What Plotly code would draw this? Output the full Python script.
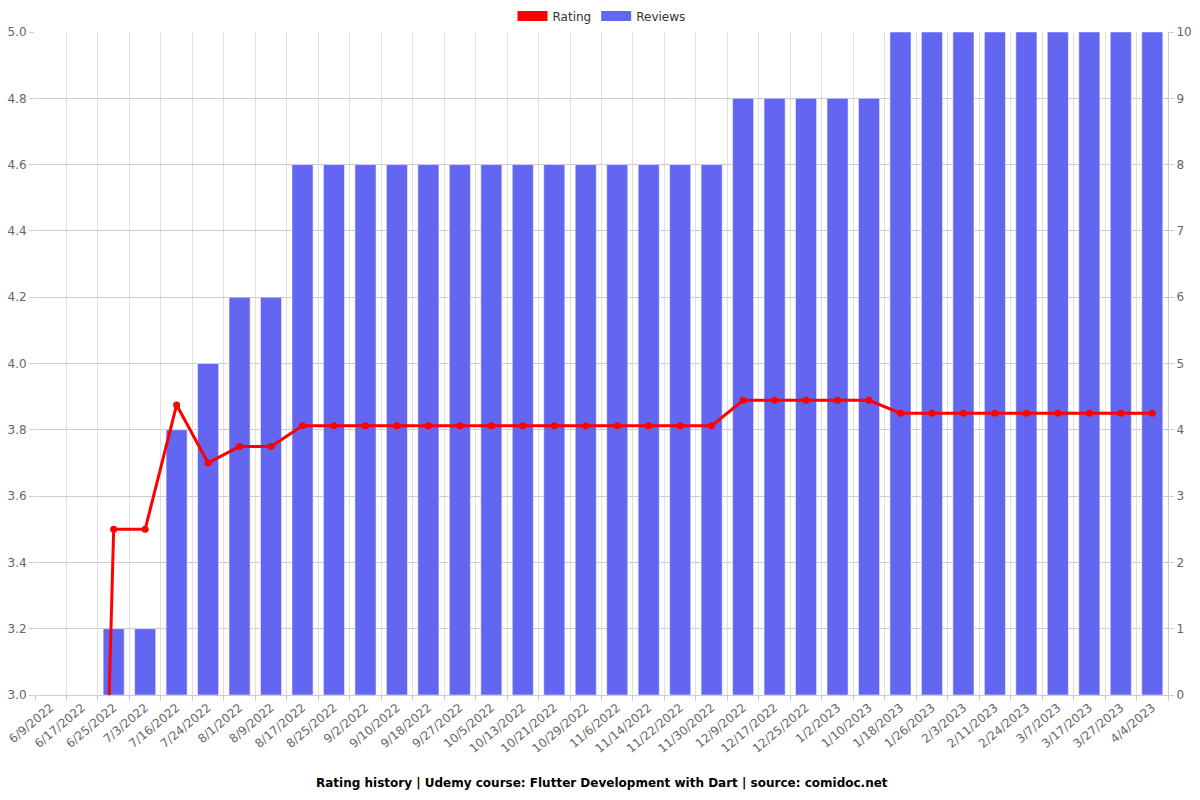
import plotly.graph_objects as go

dates = ["6/9/2022", "6/17/2022", "6/25/2022", "7/3/2022", "7/16/2022", "7/24/2022",
         "8/1/2022", "8/9/2022", "8/17/2022", "8/25/2022", "9/2/2022", "9/10/2022",
         "9/18/2022", "9/27/2022", "10/5/2022", "10/13/2022", "10/21/2022", "10/29/2022",
         "11/6/2022", "11/14/2022", "11/22/2022", "11/30/2022", "12/9/2022", "12/17/2022",
         "12/25/2022", "1/2/2023", "1/10/2023", "1/18/2023", "1/26/2023", "2/3/2023",
         "2/11/2023", "2/24/2023", "3/7/2023", "3/17/2023", "3/27/2023", "4/4/2023"]

reviews = [0, 0, 1, 1, 4, 5, 6, 6,
           8, 8, 8, 8, 8, 8, 8, 8, 8, 8, 8, 8, 8, 8,
           9, 9, 9, 9, 9,
           10, 10, 10, 10, 10, 10, 10, 10, 10]

rating = [0, 0, 3.5, 3.5, 3.875, 3.7, 3.75, 3.75,
          3.8125, 3.8125, 3.8125, 3.8125, 3.8125, 3.8125, 3.8125, 3.8125, 3.8125, 3.8125,
          3.8125, 3.8125, 3.8125, 3.8125,
          3.889, 3.889, 3.889, 3.889, 3.889,
          3.85, 3.85, 3.85, 3.85, 3.85, 3.85, 3.85, 3.85, 3.85]

title = "Rating history | Udemy course: Flutter Development with Dart | source: comidoc.net"

RED = "#ff0000"
BLUE = "#6366f1"

fig = go.Figure()

# bars on primary axis (drawn below), rating line on overlaying axis (drawn on top)
fig.add_trace(go.Bar(
    x=dates, y=reviews, name="Reviews", yaxis="y",
    marker=dict(color=BLUE, line=dict(color="rgba(255,255,255,0.5)", width=1)),
    showlegend=False,
))
fig.add_trace(go.Scatter(
    x=dates, y=rating, name="Rating", mode="lines+markers", yaxis="y2",
    line=dict(color=RED, width=3), marker=dict(color=RED, size=7),
    showlegend=False,
))
# legend-only entries (rectangular swatches)
fig.add_trace(go.Scatter(x=[None], y=[None], name="Rating", mode="lines",
                         line=dict(color=RED, width=14), yaxis="y2"))
fig.add_trace(go.Scatter(x=[None], y=[None], name="Reviews", mode="lines",
                         line=dict(color=BLUE, width=14), yaxis="y2"))

fig.update_layout(
    width=1200, height=800,
    margin=dict(l=35, r=32, t=32, b=105, autoexpand=False),
    paper_bgcolor="white", plot_bgcolor="white",
    font=dict(family="DejaVu Sans", size=12, color="#666"),
    bargap=0.33,
    legend=dict(orientation="h", x=0.5, xanchor="center", y=1.024, yanchor="middle",
                font=dict(color="#333", size=12), traceorder="normal",
                itemwidth=30),
    xaxis=dict(
        type="category", tickson="boundaries", tickangle=-40,
        range=[-0.5, len(dates) - 0.5], autorange=False,
        showgrid=True, gridcolor="#e0e0e0", gridwidth=1,
        ticks="outside", ticklen=5, tickcolor="#ccc",
        showline=True, linecolor="#ccc", automargin=False,
        tickfont=dict(size=12, color="#666"),
    ),
    yaxis=dict(
        side="right", range=[0, 10], dtick=1,
        showgrid=True, gridcolor="#ccc", zeroline=False,
        ticks="outside", ticklen=5, tickcolor="#ccc",
        showline=True, linecolor="#ccc", automargin=False,
        tickfont=dict(size=12, color="#666"),
    ),
    yaxis2=dict(
        overlaying="y", side="left", range=[3.0, 5.0], dtick=0.2, tickformat=".1f",
        showgrid=False, zeroline=False,
        ticks="outside", ticklen=5, tickcolor="#ccc",
        showline=False, automargin=False,
        tickfont=dict(size=12, color="#666"),
    ),
    annotations=[dict(
        text="<b>" + title + "</b>", x=0.5, y=0.0, xref="paper", yref="paper",
        xanchor="center", yanchor="middle", yshift=-88, showarrow=False,
        font=dict(size=12, color="#000", family="DejaVu Sans"),
    )],
)

fig.write_html("out.html", config={"displayModeBar": False},
               post_script="document.body.style.margin='0';")
